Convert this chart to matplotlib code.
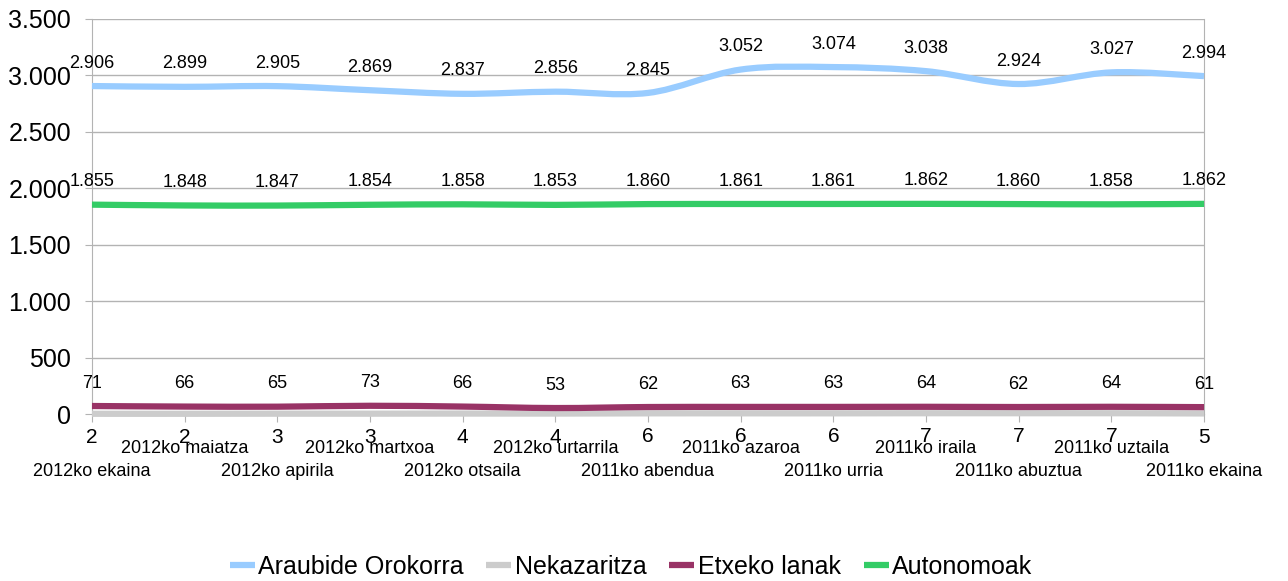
import matplotlib.pyplot as plt
import numpy as np
from matplotlib.path import Path
from matplotlib.patches import PathPatch
from matplotlib.lines import Line2D
from matplotlib.ticker import FuncFormatter

plt.rcParams['font.family'] = ['Liberation Sans', 'DejaVu Sans']

months = ['2012ko ekaina', '2012ko maiatza', '2012ko apirila', '2012ko martxoa',
          '2012ko otsaila', '2012ko urtarrila', '2011ko abendua', '2011ko azaroa',
          '2011ko urria', '2011ko iraila', '2011ko abuztua', '2011ko uztaila',
          '2011ko ekaina']
araubide = [2906, 2899, 2905, 2869, 2837, 2856, 2845, 3052, 3074, 3038, 2924, 3027, 2994]
nekazaritza = [2, 2, 3, 3, 4, 4, 6, 6, 6, 7, 7, 7, 5]
etxeko = [71, 66, 65, 73, 66, 53, 62, 63, 63, 64, 62, 64, 61]
autonomoak = [1855, 1848, 1847, 1854, 1858, 1853, 1860, 1861, 1861, 1862, 1860, 1858, 1862]

# name, values, colour, label offset (pt), label size
series = [('Araubide Orokorra', araubide, '#99ccff', 16.5, 13),
          ('Nekazaritza', nekazaritza, '#cccccc', -17, 15),
          ('Etxeko lanak', etxeko, '#993366', 16.5, 13),
          ('Autonomoak', autonomoak, '#33cc66', 16.5, 13)]


def smooth_path(x, y):
    # catmull-rom curve through the points, drawn as bezier segments
    x = np.asarray(x, float)
    y = np.asarray(y, float)
    px = np.concatenate([[x[0]], x, [x[-1]]])
    py = np.concatenate([[y[0]], y, [y[-1]]])
    verts = [(x[0], y[0])]
    codes = [Path.MOVETO]
    for i in range(1, len(px) - 2):
        c1 = (px[i] + (px[i + 1] - px[i - 1]) / 6, py[i] + (py[i + 1] - py[i - 1]) / 6)
        c2 = (px[i + 1] - (px[i + 2] - px[i]) / 6, py[i + 1] - (py[i + 2] - py[i]) / 6)
        verts += [c1, c2, (px[i + 1], py[i + 1])]
        codes += [Path.CURVE4] * 3
    return Path(verts, codes)


fig = plt.figure(figsize=(12.88, 5.81), dpi=100)
ax = fig.add_axes([0.0714, 0.2874, 0.8634, 0.6799])

x = np.arange(len(months))
handles = []
for name, vals, col, off, fs in series:
    patch = PathPatch(smooth_path(x, vals), facecolor='none', edgecolor=col,
                      lw=4.5, clip_on=False, capstyle='butt', zorder=3)
    ax.add_patch(patch)
    handles.append(Line2D([], [], color=col, lw=4.5, solid_capstyle='butt'))
    for xi, v in zip(x, vals):
        ax.annotate(f'{v:,}'.replace(',', '.'), (xi, v), xytext=(0, off),
                    textcoords='offset points', ha='center', va='center',
                    fontsize=fs, color='black', zorder=4)

ax.set_xlim(0, len(months) - 1)
ax.set_ylim(0, 3500)
ax.set_yticks(np.arange(0, 3501, 500))
ax.yaxis.set_major_formatter(FuncFormatter(lambda v, p: f'{int(v):,}'.replace(',', '.')))
ax.tick_params(axis='y', labelsize=18, length=5, color='#b3b3b3', pad=10)
ax.grid(axis='y', color='#b3b3b3', lw=1)
ax.set_axisbelow(True)

ax.set_xticks(x)
ax.set_xticklabels(['\n' + m if i % 2 == 0 else m for i, m in enumerate(months)],
                   fontsize=13, linespacing=1.45)
ax.tick_params(axis='x', length=6, color='#b3b3b3', pad=13)

for s in ['left', 'right', 'bottom']:
    ax.spines[s].set_color('#b3b3b3')
ax.spines['top'].set_visible(False)

fig.legend(handles, [s[0] for s in series], loc='center', bbox_to_anchor=(0.49, 0.024),
           ncol=4, frameon=False, fontsize=18, handlelength=1.0, handletextpad=0.15,
           columnspacing=0.9)

fig.savefig('out.png', dpi=100)
